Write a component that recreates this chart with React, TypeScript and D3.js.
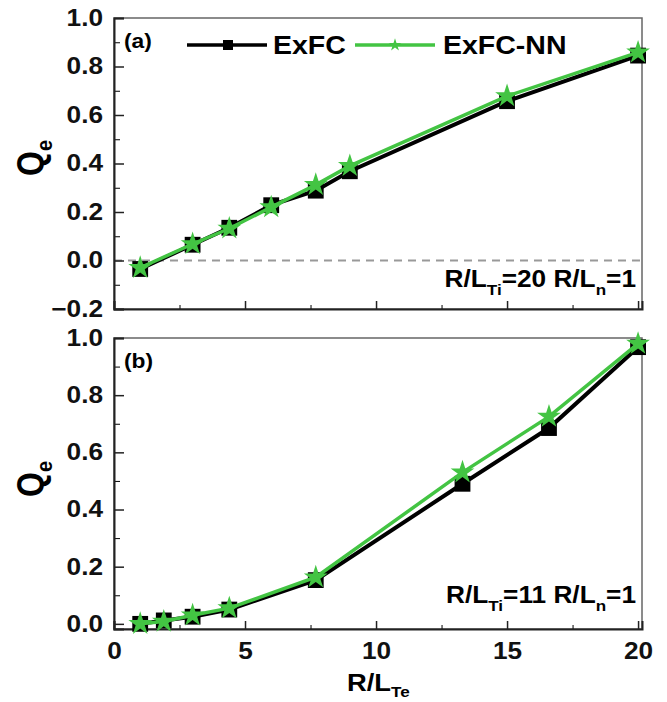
import React, { useEffect, useRef } from "react";
import * as d3 from "d3";

// DATA
const xA = [1, 3, 4.4, 6, 7.7, 9, 15, 20];
const exfcA = [-0.035, 0.065, 0.135, 0.228, 0.288, 0.368, 0.657, 0.845];
const nnA = [-0.03, 0.068, 0.132, 0.22, 0.312, 0.39, 0.678, 0.858];

const xB = [1, 1.9, 3, 4.4, 7.7, 13.3, 16.6, 20];
const exfcB = [0.0, 0.012, 0.025, 0.05, 0.153, 0.49, 0.685, 0.968];
const nnB = [0.0, 0.008, 0.03, 0.055, 0.163, 0.53, 0.725, 0.98];

const xTicks = [0, 5, 10, 15, 20];
const yTicksA = [-0.2, 0, 0.2, 0.4, 0.6, 0.8, 1.0];
const yTicksB = [0, 0.2, 0.4, 0.6, 0.8, 1.0];

const GREEN = "#43c443";
const SX = 1.14; // the picture is a bit stretched sideways
const FONT = "'Liberation Sans', Arial, sans-serif";

export default function App() {
  const ref = useRef<SVGSVGElement>(null);

  useEffect(() => {
    const svg = d3.select(ref.current);
    svg.selectAll("*").remove();

    const left = 114;
    const right = 642;
    const x = d3.scaleLinear().domain([0, 20.15]).range([left, right]);

    const panels = [
      {
        xs: xA, s1: exfcA, s2: nnA, top: 18, bottom: 309,
        y: d3.scaleLinear().domain([-0.2, 1.0]).range([309, 18]),
        yTicks: yTicksA, tag: "(a)", ti: "20", showX: false, zero: true,
        annY: 287, qY: 176,
      },
      {
        xs: xB, s1: exfcB, s2: nnB, top: 338, bottom: 629,
        y: d3.scaleLinear().domain([-0.018, 1.0]).range([629, 338]),
        yTicks: yTicksB, tag: "(b)", ti: "11", showX: true, zero: false,
        annY: 603, qY: 497,
      },
    ];

    panels.forEach((p) => {
      const g = svg.append("g");

      // frame
      g.append("rect")
        .attr("x", left).attr("y", p.top)
        .attr("width", right - left).attr("height", p.bottom - p.top)
        .attr("fill", "none").attr("stroke", "#666").attr("stroke-width", 1.5);

      // zero line
      if (p.zero) {
        g.append("line")
          .attr("x1", left).attr("x2", right)
          .attr("y1", p.y(0)).attr("y2", p.y(0))
          .attr("stroke", "#999").attr("stroke-width", 2)
          .attr("stroke-dasharray", "8,6");
      }

      // X AXIS (inward ticks)
      const xMinor = d3.range(2.5, 20, 5);
      g.append("g")
        .attr("transform", `translate(0,${p.bottom})`)
        .call(d3.axisBottom(x).tickValues(xMinor).tickSize(-4).tickFormat(() => ""))
        .call((s) => s.select(".domain").remove());
      const xa = g.append("g")
        .attr("transform", `translate(0,${p.bottom})`)
        .call(d3.axisBottom(x).tickValues(xTicks).tickSize(-8).tickPadding(14)
          .tickFormat((d) => (p.showX ? d3.format("d")(d as number) : "")));
      xa.select(".domain").attr("stroke", "#222").attr("stroke-width", 2);
      xa.selectAll(".tick line").attr("stroke", "#222").attr("stroke-width", 1.5);

      // Y AXIS (inward ticks)
      const yMinor = d3.range(-0.1, 1.0, 0.2).filter((v) => v > p.y.domain()[0]);
      g.append("g")
        .attr("transform", `translate(${left},0)`)
        .call(d3.axisLeft(p.y).tickValues(yMinor).tickSize(-6).tickFormat(() => ""))
        .call((s) => s.select(".domain").remove());
      const ya = g.append("g")
        .attr("transform", `translate(${left},0)`)
        .call(d3.axisLeft(p.y).tickValues(p.yTicks).tickSize(-10).tickPadding(11)
          .tickFormat(d3.format(".1f")));
      ya.select(".domain").attr("stroke", "#222").attr("stroke-width", 2);
      ya.selectAll(".tick line").attr("stroke", "#222").attr("stroke-width", 1.5);

      [xa, ya].forEach((a) =>
        a.selectAll("text")
          .attr("font-family", FONT).attr("font-weight", "bold")
          .attr("font-size", 23).attr("fill", "#111")
      );
      ya.selectAll("text").attr("transform", `scale(${SX},1)`)
        .attr("x", -11 / SX);
      xa.selectAll("text").attr("transform", `scale(${SX},1)`);

      // LINES
      const line = d3.line<number>()
        .x((_, i) => x(p.xs[i]))
        .y((d) => p.y(d));

      g.append("path").datum(p.s1)
        .attr("fill", "none").attr("stroke", "#000").attr("stroke-width", 4)
        .attr("d", line);
      g.selectAll(".sq").data(p.s1).enter().append("path")
        .attr("transform", (d, i) => `translate(${x(p.xs[i])},${p.y(d)})`)
        .attr("d", d3.symbol(d3.symbolSquare, 250)())
        .attr("fill", "#000");

      g.append("path").datum(p.s2)
        .attr("fill", "none").attr("stroke", GREEN).attr("stroke-width", 3.5)
        .attr("d", line);
      g.selectAll(".st").data(p.s2).enter().append("path")
        .attr("transform", (d, i) => `translate(${x(p.xs[i])},${p.y(d)})`)
        .attr("d", d3.symbol(d3.symbolStar, 175)())
        .attr("fill", GREEN);

      // panel tag
      g.append("text")
        .attr("transform", `translate(124,${p.top + 30}) scale(${SX},1)`)
        .attr("font-family", FONT).attr("font-weight", "bold").attr("font-size", 20)
        .text(p.tag);

      // annotation
      const ann = g.append("text")
        .attr("transform", `translate(636,${p.annY}) scale(${SX},1)`)
        .attr("text-anchor", "end")
        .attr("font-family", FONT).attr("font-weight", "bold").attr("font-size", 23);
      ann.append("tspan").text("R/L");
      ann.append("tspan").attr("font-size", 15).attr("dy", 8).text("Ti");
      ann.append("tspan").attr("dy", -8).text(`=${p.ti} R/L`);
      ann.append("tspan").attr("font-size", 15).attr("dy", 8).text("n");
      ann.append("tspan").attr("dy", -8).text("=1");

      // y label
      const q = g.append("text")
        .attr("transform", `translate(43,${p.qY}) scale(${SX},1) rotate(-90)`)
        .attr("font-family", FONT).attr("font-weight", "bold").attr("font-size", 32);
      q.append("tspan").text("Q");
      q.append("tspan").attr("font-size", 20).attr("dy", 8).text("e");
    });

    // LEGEND
    const lg = svg.append("g");
    lg.append("line").attr("x1", 187).attr("x2", 267).attr("y1", 45).attr("y2", 45)
      .attr("stroke", "#000").attr("stroke-width", 3.5);
    lg.append("rect").attr("x", 223).attr("y", 40).attr("width", 10).attr("height", 10)
      .attr("fill", "#000");
    lg.append("text")
      .attr("transform", `translate(273,54) scale(${SX},1)`)
      .attr("font-family", FONT).attr("font-weight", "bold").attr("font-size", 25)
      .text("ExFC");
    lg.append("line").attr("x1", 355).attr("x2", 435).attr("y1", 45).attr("y2", 45)
      .attr("stroke", GREEN).attr("stroke-width", 3.5);
    lg.append("path").attr("transform", "translate(395,45)")
      .attr("d", d3.symbol(d3.symbolStar, 50)()).attr("fill", GREEN);
    lg.append("text")
      .attr("transform", `translate(443,54) scale(${SX},1)`)
      .attr("font-family", FONT).attr("font-weight", "bold").attr("font-size", 25)
      .text("ExFC-NN");

    // X LABEL
    const xl = svg.append("text")
      .attr("transform", `translate(347,691) scale(${SX},1)`)
      .attr("font-family", FONT).attr("font-weight", "bold").attr("font-size", 24);
    xl.append("tspan").text("R/L");
    xl.append("tspan").attr("font-size", 15).attr("dy", 6).text("Te");
  }, []);

  return (
    <svg
      ref={ref}
      width={667}
      height={702}
      style={{ position: "absolute", left: 0, top: 0, background: "#fff" }}
    />
  );
}
